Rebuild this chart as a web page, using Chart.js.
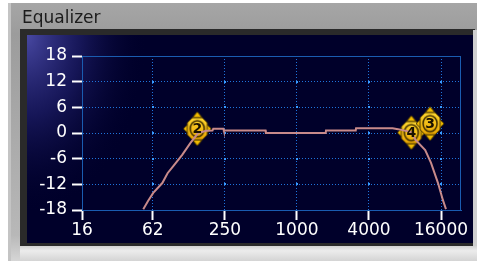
<!DOCTYPE html>
<html>
<head>
<meta charset="utf-8">
<style>
  html, body { margin: 0; padding: 0; background: #fff; }
  #eq { display: block; }
</style>
</head>
<body>
<canvas id="eq" width="477" height="261"></canvas>
<script src="https://cdn.jsdelivr.net/npm/chart.js@4.4.1/dist/chart.umd.min.js"></script>
<script>
// response curve (Hz, dB)
const curveFreq = [52, 57, 63, 75, 83, 93, 110, 129, 150, 175, 197, 200, 243, 245, 307, 310, 547, 550, 1740, 1750, 3100, 3120, 6300, 7000, 9000, 9800, 11800, 13200, 15100, 16600, 17600];
const curveGain = [-17.8, -15.9, -14.0, -11.7, -9.4, -7.7, -5.1, -2.3, 0.0, 0.5, 0.6, 1.0, 1.0, 0.6, 0.6, 0.6, 0.6, 0.0, 0.0, 0.6, 0.6, 1.1, 1.1, 0.9, 0.2, -1.6, -4.0, -7.0, -11.7, -15.7, -17.8];

// band handles
const bandNames = ["2", "4", "3"];
const bandFreq = [147, 9040, 12960];
const bandGain = [1.0, 0.1, 2.2];

const xTickValues = [16, 62.5, 250, 1000, 4000, 16000];
const xTickLabels = ["16", "62", "250", "1000", "4000", "16000"];
const yTickValues = [-18, -12, -6, 0, 6, 12, 18];

const gridBlue = "#1f74dc";
const tickFont = { family: "DejaVu Sans", size: 17 };

// yellow handle used as point style
function makeHandle() {
  const c = document.createElement("canvas");
  c.width = 30;
  c.height = 36;
  const g = c.getContext("2d");
  g.fillStyle = "#f2bc00";
  g.strokeStyle = "#4a3600";
  g.lineWidth = 1;
  const tris = [
    [[15, 1], [10, 7], [20, 7]],
    [[15, 35], [10, 29], [20, 29]],
    [[1, 18], [6, 13], [6, 23]],
    [[29, 18], [24, 13], [24, 23]],
  ];
  tris.forEach((t) => {
    g.beginPath();
    g.moveTo(t[0][0], t[0][1]);
    g.lineTo(t[1][0], t[1][1]);
    g.lineTo(t[2][0], t[2][1]);
    g.closePath();
    g.fill();
    g.stroke();
  });
  // body
  const grad = g.createLinearGradient(0, 7, 0, 29);
  grad.addColorStop(0, "#ffd830");
  grad.addColorStop(1, "#e8a400");
  g.fillStyle = grad;
  g.beginPath();
  g.moveTo(10, 7); g.lineTo(20, 7); g.lineTo(25, 12); g.lineTo(25, 24);
  g.lineTo(20, 29); g.lineTo(10, 29); g.lineTo(5, 24); g.lineTo(5, 12);
  g.closePath();
  g.fill();
  g.stroke();
  g.strokeStyle = "#3a2a00";
  g.lineWidth = 1.5;
  g.beginPath();
  g.ellipse(15, 18, 7, 8, 0, 0, Math.PI * 2);
  g.stroke();
  return c;
}

const framePlugin = {
  id: "frame",
  beforeDraw(chart) {
    const ctx = chart.ctx;
    ctx.save();
    ctx.fillStyle = "#ffffff";
    ctx.fillRect(0, 0, 477, 261);
    // grey case
    let gr = ctx.createLinearGradient(0, 3, 0, 261);
    gr.addColorStop(0, "#a6a6a6");
    gr.addColorStop(0.12, "#9c9c9c");
    gr.addColorStop(0.9, "#b8b8b8");
    gr.addColorStop(1, "#d6d6d6");
    ctx.fillStyle = gr;
    ctx.fillRect(8, 3, 469, 258);
    ctx.fillStyle = "#c4c4c4";
    ctx.fillRect(8, 3, 3, 258);
    // bottom light bevel
    gr = ctx.createLinearGradient(0, 244, 0, 261);
    gr.addColorStop(0, "#c8c8c8");
    gr.addColorStop(0.4, "#ececec");
    gr.addColorStop(1, "#d4d4d4");
    ctx.fillStyle = gr;
    ctx.fillRect(20, 244, 457, 17);
    // dark bezel
    ctx.fillStyle = "#2a2a2a";
    ctx.fillRect(20, 29, 455, 217);
    ctx.fillStyle = "#cfcfcf";
    ctx.fillRect(473, 30, 4, 216);
    // navy panel with soft glow in the top-left corner
    ctx.fillStyle = "#00002a";
    ctx.fillRect(27, 35, 446, 208);
    ctx.save();
    ctx.beginPath();
    ctx.rect(27, 35, 446, 208);
    ctx.clip();
    ctx.translate(27, 35);
    ctx.scale(1, 1.5);
    const rg = ctx.createRadialGradient(0, 0, 0, 0, 0, 120);
    rg.addColorStop(0, "rgba(80,80,175,0.9)");
    rg.addColorStop(0.45, "rgba(40,40,125,0.55)");
    rg.addColorStop(1, "rgba(0,0,42,0)");
    ctx.fillStyle = rg;
    ctx.fillRect(0, 0, 130, 130);
    ctx.restore();
    // title
    ctx.fillStyle = "#1c1c1c";
    ctx.font = "17px 'DejaVu Sans'";
    ctx.textBaseline = "alphabetic";
    ctx.fillText("Equalizer", 22, 23);
    ctx.restore();
  },
  beforeDatasetsDraw(chart) {
    const { ctx, chartArea, scales } = chart;
    ctx.save();
    ctx.strokeStyle = "#1a5cb0";
    ctx.lineWidth = 1;
    ctx.strokeRect(chartArea.left + 0.5, chartArea.top + 0.5,
      chartArea.right - chartArea.left - 1, chartArea.bottom - chartArea.top);
    ctx.fillStyle = "#3a9cff";
    xTickValues.slice(1).forEach((xv) => {
      yTickValues.slice(1, -1).forEach((yv) => {
        const px = Math.round(scales.x.getPixelForValue(xv));
        const py = Math.round(scales.y.getPixelForValue(yv));
        ctx.fillRect(px - 1, py - 1, 2, 2);
      });
    });
    ctx.restore();
  },
  afterDatasetsDraw(chart) {
    const ctx = chart.ctx;
    const meta = chart.getDatasetMeta(1);
    ctx.save();
    ctx.fillStyle = "#1a1200";
    ctx.font = "bold 14px 'DejaVu Sans'";
    ctx.textAlign = "center";
    ctx.textBaseline = "middle";
    meta.data.forEach((pt, i) => {
      ctx.fillText(bandNames[i], pt.x, pt.y + 1);
    });
    ctx.restore();
  },
};

new Chart(document.getElementById("eq"), {
  type: "line",
  data: {
    datasets: [
      {
        label: "Response",
        data: curveFreq.map((f, i) => ({ x: f, y: curveGain[i] })),
        borderColor: "#c88a8a",
        borderWidth: 2,
        pointRadius: 0,
        tension: 0,
      },
      {
        label: "Bands",
        data: bandFreq.map((f, i) => ({ x: f, y: bandGain[i] })),
        showLine: false,
        pointStyle: makeHandle(),
        pointRadius: 15,
      },
    ],
  },
  options: {
    responsive: false,
    animation: false,
    events: [],
    layout: { padding: { left: 28, top: 56, right: 16, bottom: 21 } },
    plugins: { legend: { display: false }, tooltip: { enabled: false } },
    scales: {
      x: {
        type: "logarithmic",
        min: 16,
        max: 23500,
        afterBuildTicks: (scale) => {
          scale.ticks = xTickValues.map((v) => ({ value: v }));
        },
        afterFit: (scale) => {
          scale.height = 30;
        },
        ticks: {
          autoSkip: false,
          maxRotation: 0,
          color: "#ffffff",
          font: tickFont,
          padding: 0,
          callback: (v) => xTickLabels[xTickValues.indexOf(v)],
        },
        grid: {
          color: gridBlue,
          tickColor: "#ffffff",
          tickLength: 10,
          tickWidth: 2,
          tickBorderDash: [],
        },
        border: { color: "#1a5cb0", dash: [1, 2] },
      },
      y: {
        min: -18,
        max: 18,
        afterBuildTicks: (scale) => {
          scale.ticks = yTickValues.map((v) => ({ value: v }));
        },
        afterFit: (scale) => {
          scale.width = 54;
        },
        ticks: {
          color: "#ffffff",
          font: tickFont,
          padding: 5,
        },
        grid: {
          color: gridBlue,
          tickColor: "#ffffff",
          tickLength: 10,
          tickWidth: 2,
          tickBorderDash: [],
        },
        border: { color: "#1a5cb0", dash: [1, 2] },
      },
    },
  },
  plugins: [framePlugin],
});
</script>
</body>
</html>
